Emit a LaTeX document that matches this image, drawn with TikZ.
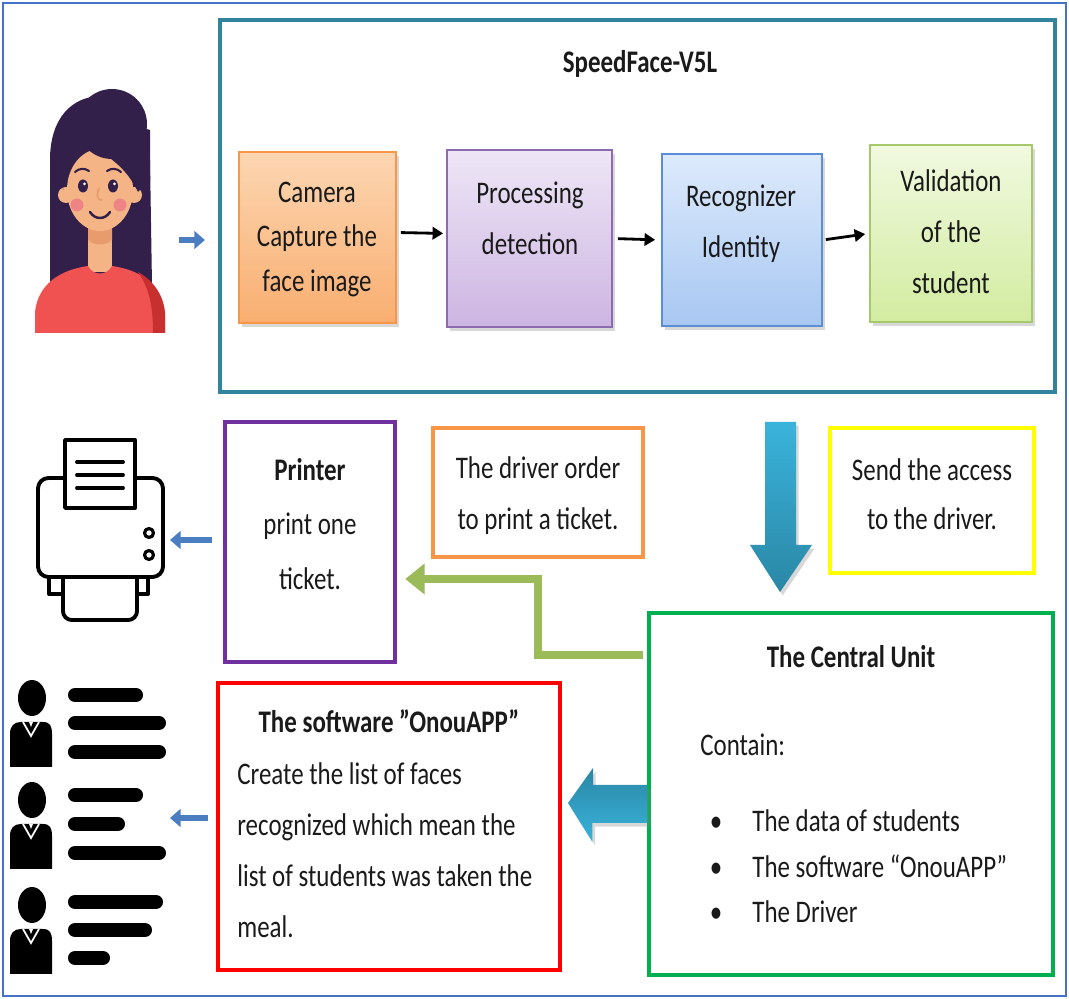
\documentclass[tikz,border=0pt]{standalone}
\usepackage{fontspec}
\setmainfont{Carlito}
\usetikzlibrary{arrows.meta,shadows,calc,fit}

\definecolor{framebl}{HTML}{4472C4}
\definecolor{sfteal}{HTML}{31849B}
\definecolor{textgray}{HTML}{1A1A1A}
\definecolor{camtop}{HTML}{FCD6B2}
\definecolor{cambot}{HTML}{F9AE70}
\definecolor{camline}{HTML}{F79646}
\definecolor{proctop}{HTML}{EEE6F6}
\definecolor{procbot}{HTML}{CDB5E2}
\definecolor{procline}{HTML}{8C6BB1}
\definecolor{rectop}{HTML}{DDEAFC}
\definecolor{recbot}{HTML}{A8C7F2}
\definecolor{recline}{HTML}{5B8ED6}
\definecolor{valtop}{HTML}{F1F9E0}
\definecolor{valbot}{HTML}{D2ECA0}
\definecolor{valline}{HTML}{A5C96A}
\definecolor{prnpurple}{HTML}{7030A0}
\definecolor{ordorange}{HTML}{F79646}
\definecolor{accyellow}{HTML}{FFFF00}
\definecolor{cugreen}{HTML}{00B050}
\definecolor{swred}{HTML}{FF0000}
\definecolor{linkgreen}{HTML}{9BBB59}
\definecolor{smallblue}{HTML}{4A7EC0}
\definecolor{bigbluelt}{HTML}{3AB3DB}
\definecolor{bigbluedk}{HTML}{2A87A5}
\definecolor{hair}{HTML}{33204A}
\definecolor{skin}{HTML}{F5B485}
\definecolor{skindk}{HTML}{E89B6C}
\definecolor{shirt}{HTML}{F05252}
\definecolor{shirtdk}{HTML}{C8302F}
\definecolor{blush}{HTML}{EE8585}

% multi-line text, set a little taller than wide
\newcommand\stretchtext[2][c]{\scalebox{1}[1.26]{\begin{tabular}{@{}#1@{}}#2\end{tabular}}}

\begin{document}
\begin{tikzpicture}[x=0.02cm,y=-0.02cm,
  txt/.style={font=\fontsize{14.2}{23}\selectfont, text=textgray, inner sep=0pt},
  stage/.style={fit={#1}, inner sep=0pt, line width=1pt,
    drop shadow={opacity=0.3,shadow xshift=1.5pt,shadow yshift=-2.5pt}},
  outline/.style={fit={#1}, inner sep=0pt},
  stepline/.style={line width=1.6pt, draw=black, -{Triangle[length=6pt,width=7pt]}},
  bluelink/.style={line width=3pt, draw=smallblue, -{Triangle[length=6pt,width=10pt]},
    drop shadow={opacity=0.25,shadow xshift=1pt,shadow yshift=-1.5pt}},
  greenlink/.style={line width=5pt, draw=linkgreen, line join=miter,
    -{Triangle[length=11pt,width=17pt]}},
  bigarrow/.style={draw=none, drop shadow={opacity=0.3,shadow xshift=1.5pt,shadow yshift=-2pt}},
  icon/.style={line width=2.2pt, draw=black, line cap=round, line join=round},
  bar/.style={line width=8pt, draw=black, line cap=round}
]
\useasboundingbox (0,0) rectangle (1069,999);
\fill[white] (0,0) rectangle (1069,999);
\draw[framebl, line width=1.2pt] (3,3) rectangle (1066,996);

% ---------- face reader unit ----------
\node[outline={(220,20) (1055,392)}, draw=sfteal, line width=2.4pt] (sf) {};
\node[txt] (sftitle) at (640,62) {\stretchtext{\bfseries SpeedFace-V5L}};

\node[stage={(239,152) (396,323)}, draw=camline, top color=camtop, bottom color=cambot] (cam) {};
\node[stage={(447,150) (612,327)}, draw=procline, top color=proctop, bottom color=procbot] (proc) {};
\node[stage={(662,154) (822,326)}, draw=recline, top color=rectop, bottom color=recbot] (rec) {};
\node[stage={(870,145) (1032,322)}, draw=valline, top color=valtop, bottom color=valbot] (val) {};

\node[txt, font=\fontsize{14.2}{20.2}\selectfont] (camtxt) at (317,238) {\stretchtext{Camera\\Capture the\\face image}};
\node[txt] (proctxt) at (530,219) {\stretchtext{Processing\\detection}};
\node[txt] (rectxt) at (741,222) {\stretchtext{Recognizer\\Identity}};
\node[txt] (valtxt) at (951,232) {\stretchtext{Validation\\of the\\student}};

\draw[stepline, shorten <=0.08cm, shorten >=0.06cm] ([yshift=0.1cm]cam.east) -- ([yshift=0.1cm]proc.west);
\draw[stepline, shorten <=0.1cm, shorten >=0.12cm] (proc.east) -- (rec.west);
\draw[stepline, shorten <=0.06cm, shorten >=0.08cm] (rec.east) -- (val.west);

% ---------- student ----------
\fill[hair] (50,285) -- (50,160) .. controls (50,118) and (72,96) .. (102,96)
  .. controls (130,96) and (150,118) .. (150,160) -- (152,285) -- cycle;
\fill[skin] (88,222) rectangle (112,272);
\fill[skindk] (88,222) -- (112,222) -- (112,240) .. controls (105,246) and (95,246) .. (88,240) -- cycle;
\fill[skin] (66,195) circle (8);
\fill[skin] (134,195) circle (8);
\fill[skin] (100,190) ellipse (33 and 41);
\fill[hair] (63,190) .. controls (62,160) and (72,146) .. (86,147)
  .. controls (102,150) and (126,166) .. (138,192) -- (150,180) -- (150,130) -- (80,110) -- (63,140) -- cycle;
\fill[hair] (112,124) circle (35);
\fill[shirt] (35,333) -- (35,312) .. controls (38,284) and (60,270) .. (88,266)
  .. controls (93,276) and (107,276) .. (112,266)
  .. controls (140,270) and (162,284) .. (165,312) -- (165,333) -- cycle;
\fill[shirtdk] (138,272) .. controls (156,282) and (164,298) .. (165,315) -- (165,333) -- (153,333)
  .. controls (153,305) and (149,288) .. (138,272) -- cycle;
\fill[hair] (83,186) ellipse (5 and 6.5);
\fill[hair] (113,186) ellipse (5 and 6.5);
\fill[white] (84.5,184) circle (1.5);
\fill[white] (114.5,184) circle (1.5);
\draw[hair, line width=1.2pt, line cap=round] (75,172) .. controls (79,168) and (85,168) .. (89,171);
\draw[hair, line width=1.2pt, line cap=round] (107,171) .. controls (111,168) and (117,168) .. (121,172);
\fill[blush] (77,205) circle (6.5);
\fill[blush] (120,205) circle (6.5);
\draw[skindk, line width=1pt] (99,188) .. controls (96,196) and (97,200) .. (102,200);
\draw[hair, line width=1.4pt, line cap=round] (90,212) .. controls (95,220) and (105,220) .. (110,212);
\coordinate (studentE) at (179,240);
\draw[bluelink, shorten >=0.26cm] (studentE) -- (sf.west |- studentE);

% ---------- printer ----------
\draw[icon, rounded corners=6pt] (38,478) rectangle (163,577);
\draw[icon, fill=white] (65,440) rectangle (135,508);
\draw[icon] (77,462) -- (123,462) (77,475) -- (123,475) (77,488) -- (123,488);
\draw[icon] (63,577) -- (49,577) -- (49,594) -- (63,594);
\draw[icon] (137,577) -- (148,577) -- (148,594) -- (137,594);
\draw[icon, rounded corners=5pt] (63,577) -- (63,620) -- (137,620) -- (137,577);
\draw[icon, line width=1.8pt] (149,533) circle (4.5) (149,555) circle (4.5);
\coordinate (printerE) at (170,540);

\node[outline={(225,422) (395,662)}, draw=prnpurple, line width=2.6pt] (pbox) {};
\node[txt, font=\fontsize{14.2}{24.7}\selectfont] (ptxt) at (310,524) {\stretchtext{\bfseries Printer\\print one\\ticket.}};
\draw[bluelink, shorten <=0.22cm] (pbox.west |- printerE) -- (printerE);

\node[outline={(433,428) (643,557)}, draw=ordorange, line width=2.3pt] (order) {};
\node[txt] (ordtxt) at (538,494) {\stretchtext{The driver order\\to print a ticket.}};

\node[outline={(830,428) (1034,573)}, draw=accyellow, line width=2.3pt] (access) {};
\node[txt, font=\fontsize{14.2}{22.4}\selectfont] (acctxt) at (932,495) {\stretchtext{Send the access\\to the driver.}};

% ---------- central unit ----------
\node[outline={(649,613) (1053,975)}, draw=cugreen, line width=1.8pt] (cu) {};
\node[txt] (cutitle) at (851,657) {\stretchtext{\bfseries The Central Unit}};
\node[txt, anchor=west] (cucont) at (700,745) {\stretchtext{Contain:}};
\node[txt, font=\fontsize{14.2}{20.6}\selectfont] (cudots) at (716,868) {\stretchtext{\textbullet\\\textbullet\\\textbullet}};
\node[txt, font=\fontsize{14.2}{20.6}\selectfont, anchor=west] (cuitems) at (752,868)
  {\stretchtext[l]{The data of students\\The software “OnouAPP”\\The Driver}};

% access flows down into the central unit
\coordinate (dtop) at (780,422);
\path[bigarrow, top color=bigbluelt, bottom color=bigbluedk]
  (dtop) ++(-15,0) -- ++(31,0) -- ++(0,123) -- ++(16,0) -- (dtop |- 0,592) -- ++(-30,-47) -- ++(15,0) -- cycle;

% driver order back to the printer
\draw[greenlink, shorten <=0.08cm, shorten >=0.16cm] (cu.west |- 0,655) -- (538,655) |- (pbox.east |- 0,579);

% ---------- software ----------
\node[outline={(218,683) (560,970)}, draw=swred, line width=2.8pt] (sw) {};
\node[txt] (swtitle) at (389,722) {\stretchtext{\bfseries The software ”OnouAPP”}};
\node[txt, anchor=west] (swtxt) at (237,851)
  {\stretchtext[l]{Create the list of faces\\recognized which mean the\\list of students was taken the\\meal.}};

\coordinate (ltip) at (568,803);
\path[bigarrow, top color=bigbluedk, bottom color=bigbluelt]
  (cu.west |- 0,785) -- (cu.west |- 0,823) -- ++(-55,0) -- ++(0,19) -- (ltip) -- ++(25,-35) -- ++(0,17) -- cycle;

% ---------- list of students ----------
\foreach \dy in {0,102,207} {
  \fill[black] (32,698+\dy) ellipse (14 and 18);
  \fill[black] (10,767+\dy) -- (10,734+\dy) .. controls (10,726+\dy) and (14,722+\dy) .. (21,722+\dy)
    -- (43,722+\dy) .. controls (50,722+\dy) and (52,726+\dy) .. (52,734+\dy) -- (52,767+\dy) -- cycle;
  \draw[white, line width=1pt] (23,722+\dy) -- (31,736+\dy) -- (39,722+\dy);
  \fill[white] (29,722+\dy) -- (33,722+\dy) -- (31,727+\dy) -- cycle;
}
\draw[bar] (75,695) -- (136,695) (75,723) -- (159,723) (75,752) -- (159,752);
\draw[bar] (75,795) -- (136,795) (75,824) -- (118,824) (75,853) -- (159,853);
\draw[bar] (75,902) -- (156,902) (75,930) -- (145,930) (75,958) -- (103,958);
\coordinate (listE) at (170,818);
\draw[bluelink, shorten <=0.16cm] (sw.west |- listE) -- (listE);
\end{tikzpicture}
\end{document}
